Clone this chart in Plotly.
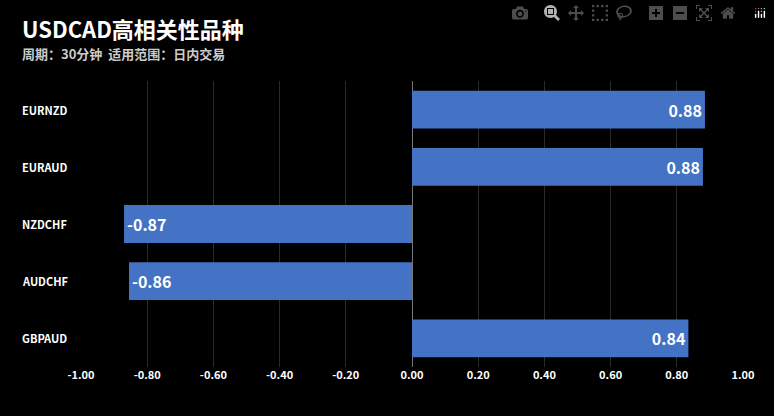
import plotly.graph_objects as go

symbols = ['EURNZD', 'EURAUD', 'NZDCHF', 'AUDCHF', 'GBPAUD']
corr = [0.885, 0.879, -0.87, -0.855, 0.835]
labels = ['0.88', '0.88', '-0.87', '-0.86', '0.84']
tick_vals = [-1, -0.8, -0.6, -0.4, -0.2, 0, 0.2, 0.4, 0.6, 0.8, 1]
tick_text = ['<b>%.2f</b>' % v for v in tick_vals]

font = 'Noto Sans CJK SC'
W, H = 774, 416
ml, mr, mt, mb = 81, 31, 81, 49

fig = go.Figure(go.Bar(
    x=corr, y=symbols, orientation='h',
    marker=dict(color='#4472C4', line=dict(width=0)),
    text=['<b>%s</b>' % t for t in labels], textposition='inside',
    insidetextanchor='end',
    textfont=dict(color='white', size=16, family=font),
    width=0.66,
))

fig.update_layout(
    width=W, height=H,
    margin=dict(l=ml, r=mr, t=mt, b=mb),
    paper_bgcolor='black', plot_bgcolor='black',
    font=dict(family=font, color='white'),
    showlegend=False,
    xaxis=dict(range=[-1, 1], tickvals=tick_vals, ticktext=tick_text,
               showgrid=True, gridcolor='#2a2a2a', zeroline=True,
               zerolinecolor='#777', zerolinewidth=1,
               tickfont=dict(size=11, color='white', family=font)),
    yaxis=dict(showticklabels=False, showgrid=False, range=[4.5, -0.5]),
)

px = lambda x: (x - ml) / (W - ml - mr)
py = lambda y: (H - y - mb) / (H - mt - mb)

fig.add_annotation(text='<b>USDCAD高相关性品种</b>', x=px(20), y=py(28),
                   xref='paper', yref='paper', showarrow=False,
                   xanchor='left', yanchor='middle',
                   font=dict(size=22, color='white', family=font))
fig.add_annotation(text='<b>周期：30分钟  适用范围：日内交易</b>', x=px(20), y=py(53),
                   xref='paper', yref='paper', showarrow=False,
                   xanchor='left', yanchor='middle',
                   font=dict(size=13, color='#cccccc', family=font))

for s in symbols:
    fig.add_annotation(text='<b>%s</b>' % s, x=px(20), y=s,
                       xref='paper', yref='y', showarrow=False,
                       xanchor='left', yanchor='middle',
                       font=dict(size=11, color='white', family=font))

fig.write_html('out.html')

# drop the default page margin so the figure sits at the window corner
with open('out.html', encoding='utf-8') as f:
    html = f.read()
html = html.replace('<body>', '<body style="margin:0;background:black">', 1)
with open('out.html', 'w', encoding='utf-8') as f:
    f.write(html)
